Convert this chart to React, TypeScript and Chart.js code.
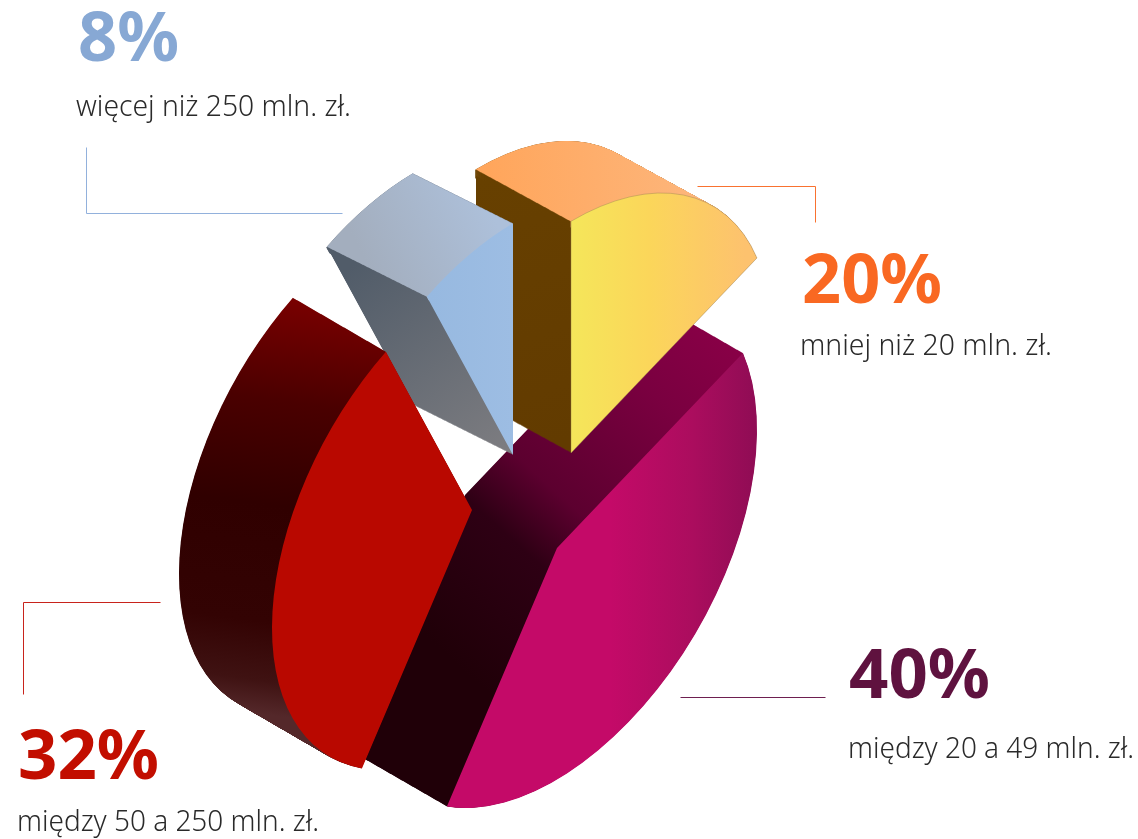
import React, { useEffect, useRef } from "react";
import { Chart, registerables } from "chart.js";

Chart.register(...registerables);

const categories = ["mniej niż 20 mln. zł.", "między 20 a 49 mln. zł.", "między 50 a 250 mln. zł.", "więcej niż 250 mln. zł."];
const shares = [20, 40, 32, 8];
const percentColors = ["#f96822", "#5f123f", "#c20e00", "#87a8d4"];
const baseColors = ["#f5e65a", "#c40a68", "#b90800", "#99bbe2"];

const W = 1138;
const H = 839;
// Oblique projection of the pie plane, and the extrusion direction of each slice.
const PROJ = { xx: 200, xy: -118, yy: 231.7 };
const DEPTH = [
  { x: -95, y: -52 },
  { x: -92, y: -53 },
  { x: -93, y: -54 },
  { x: -100, y: -50 },
];
const STEPS = 220;
const PIE_ORIGIN = { x: 537, y: 529 };
const EXPLODE = [
  { x: 34, y: -76 },
  { x: 20, y: 19 },
  { x: -65, y: -19 },
  { x: -24, y: -74 },
];
const DRAW_ORDER = [1, 0, 3, 2];
// Foreshortening of the artwork: degrees added to each slice's start and end when projected.
const ANGLE_TRIM: [number, number][] = [
  [0, -3.6],
  [-3.6, -2.6],
  [-2.6, 3.3],
  [3.3, 0],
];

type G = { from: [number, number]; to: [number, number]; stops: [number, string][] };
const FACE: G[] = [
  { from: [571, 0], to: [745, 0], stops: [[0, "#f5e65a"], [0.45, "#fbd65a"], [1, "#fdc26e"]] },
  { from: [610, 0], to: [760, 0], stops: [[0, "#c40a68"], [0.55, "#ab0d5e"], [1, "#8e0c54"]] },
  { from: [300, 0], to: [470, 0], stops: [[0, "#b90800"], [1, "#b90800"]] },
  { from: [430, 0], to: [513, 0], stops: [[0, "#97b9e0"], [1, "#9dbde3"]] },
];
const WALL: G[] = [
  { from: [480, 180], to: [570, 440], stops: [[0, "#674000"], [1, "#623b00"]] },
  { from: [720, 320], to: [430, 640], stops: [[0, "#8a0047"], [0.23, "#7a0040"], [0.55, "#5c002f"], [0.7, "#2e0014"], [1, "#200008"]] },
  { from: [300, 298], to: [245, 712], stops: [[0, "#7a0000"], [0.25, "#4a0000"], [0.5, "#300000"], [0.78, "#330303"], [0.92, "#3f1212"], [1, "#54282a"]] },
  { from: [360, 260], to: [500, 450], stops: [[0, "#515c69"], [1, "#7c7c80"]] },
];
const SURFACE: (G | null)[] = [
  { from: [490, 190], to: [690, 170], stops: [[0, "#ffa65c"], [1, "#fdb57a"]] },
  null,
  null,
  { from: [480, 190], to: [360, 250], stops: [[0, "#adc0da"], [1, "#a3aebe"]] },
];
const FACE_BORDER = ["rgba(150,125,80,0.7)", "rgba(0,0,0,0)", "rgba(0,0,0,0)", "rgba(0,0,0,0)"];

const CALLOUTS = [
  { big: [802, 303, 140], small: [800, 355, 252], line: [[697, 186], [815, 186], [815, 222]], stroke: "#f97230" },
  { big: [849, 698, 141], small: [848, 758, 286], line: [[680, 697], [825, 697]], stroke: "#6e1f50" },
  { big: [18, 779, 141], small: [17, 831, 302], line: [[23, 694], [23, 602], [160, 602]], stroke: "#c8231c" },
  { big: [78, 61, 101], small: [76, 116, 275], line: [[86, 147], [86, 213], [342, 213]], stroke: "#92b1dc" },
];

const RAD = Math.PI / 180;

function screenGradient(ctx: CanvasRenderingContext2D, g: G) {
  const inv = ctx.getTransform().inverse();
  const [x0, y0] = g.from;
  const [x1, y1] = g.to;
  const p0 = inv.transformPoint(new DOMPoint(x0, y0));
  const p1 = inv.transformPoint(new DOMPoint(x1, y1));
  const gx = x1 - x0;
  const gy = y1 - y0;
  const ux = inv.a * -gy + inv.c * gx;
  const uy = inv.b * -gy + inv.d * gx;
  const len = Math.hypot(ux, uy) || 1;
  const nx = uy / len;
  const ny = -ux / len;
  const dot = (p1.x - p0.x) * nx + (p1.y - p0.y) * ny;
  const lg = ctx.createLinearGradient(p0.x, p0.y, p0.x + nx * dot, p0.y + ny * dot);
  g.stops.forEach(([o, c]) => lg.addColorStop(o, c));
  return lg;
}

function placeSlice(ctx: CanvasRenderingContext2D, arc: any, i: number, t: number) {
  const R = arc.outerRadius;
  ctx.translate(PIE_ORIGIN.x + EXPLODE[i].x + DEPTH[i].x * t, PIE_ORIGIN.y + EXPLODE[i].y + DEPTH[i].y * t);
  ctx.transform(PROJ.xx / R, PROJ.xy / R, 0, PROJ.yy / R, 0, 0);
  ctx.translate(-arc.x, -arc.y);
}

function paint(ctx: CanvasRenderingContext2D, arc: any, i: number, t: number, g: G, extra: any = {}) {
  ctx.save();
  placeSlice(ctx, arc, i, t);
  const saved = arc.options;
  arc.options = { ...saved, backgroundColor: screenGradient(ctx, g), borderWidth: 0, ...extra };
  arc.draw(ctx);
  arc.options = saved;
  ctx.restore();
}

function withShape(arc: any, shape: any, fn: () => void) {
  const saved = { startAngle: arc.startAngle, endAngle: arc.endAngle, innerRadius: arc.innerRadius, circumference: arc.circumference };
  Object.assign(arc, shape);
  arc.circumference = arc.endAngle - arc.startAngle;
  fn();
  Object.assign(arc, saved);
}

const solidPiePlugin = {
  id: "solidPie",
  beforeDatasetsDraw(chart: any) {
    const ctx = chart.ctx as CanvasRenderingContext2D;
    const arcs = chart.getDatasetMeta(0).data;
    DRAW_ORDER.forEach((i) => {
      const arc = arcs[i];
      const start = arc.startAngle + ANGLE_TRIM[i][0] * RAD;
      const end = arc.endAngle + ANGLE_TRIM[i][1] * RAD;
      const R = arc.outerRadius;
      withShape(arc, { startAngle: start, endAngle: end }, () => {
        for (let s = STEPS; s > 0; s--) paint(ctx, arc, i, s / STEPS, WALL[i]);
      });
      const surface = SURFACE[i];
      if (surface) {
        withShape(arc, { startAngle: start, endAngle: end, innerRadius: R - 12 }, () => {
          for (let s = STEPS; s > 0; s--) paint(ctx, arc, i, s / STEPS, surface);
        });
        // Restore the wall where the curved surface's band spilled over its top edge.
        for (let s = STEPS; s > 0; s--) {
          const t = s / STEPS;
          const sliver = (1.5 * (1 - t) + 0.2 * t) * RAD;
          withShape(arc, { startAngle: start - sliver, endAngle: start, innerRadius: R - 16 }, () => {
            paint(ctx, arc, i, t, WALL[i]);
          });
        }
      }
      withShape(arc, { startAngle: start, endAngle: end }, () => {
        paint(ctx, arc, i, 0, FACE[i], { borderWidth: 1, borderColor: FACE_BORDER[i] });
      });
    });
    return false;
  },
  afterDraw(chart: any) {
    const ctx = chart.ctx as CanvasRenderingContext2D;
    ctx.save();
    ctx.textAlign = "left";
    ctx.textBaseline = "alphabetic";
    CALLOUTS.forEach((c, i) => {
      ctx.fillStyle = percentColors[i];
      ctx.font = '700 69px "Noto Sans"';
      ctx.fillText(`${shares[i]}%`, c.big[0], c.big[1], c.big[2]);
      ctx.fillStyle = "#2a2a2a";
      ctx.font = '300 29px "Noto Sans"';
      ctx.fillText(categories[i], c.small[0], c.small[1], c.small[2]);
      ctx.beginPath();
      c.line.forEach(([x, y], k) => (k ? ctx.lineTo(x + 0.5, y + 0.5) : ctx.moveTo(x + 0.5, y + 0.5)));
      ctx.strokeStyle = c.stroke;
      ctx.lineWidth = 1;
      ctx.stroke();
    });
    ctx.restore();
  },
};

export default function App() {
  const ref = useRef<HTMLCanvasElement>(null);
  useEffect(() => {
    const chart = new Chart(ref.current!, {
      type: "pie",
      data: {
        labels: categories,
        datasets: [{ data: shares, backgroundColor: baseColors, borderWidth: 0 }],
      },
      options: {
        animation: false,
        responsive: false,
        layout: { padding: 0 },
        plugins: { legend: { display: false }, tooltip: { enabled: false }, title: { display: false } },
      },
      plugins: [solidPiePlugin],
    } as any);
    return () => chart.destroy();
  }, []);
  return (
    <div style={{ position: "fixed", left: 0, top: 0, width: W, height: H, background: "#fff" }}>
      <canvas ref={ref} width={W} height={H} style={{ display: "block", width: W, height: H }} />
    </div>
  );
}
